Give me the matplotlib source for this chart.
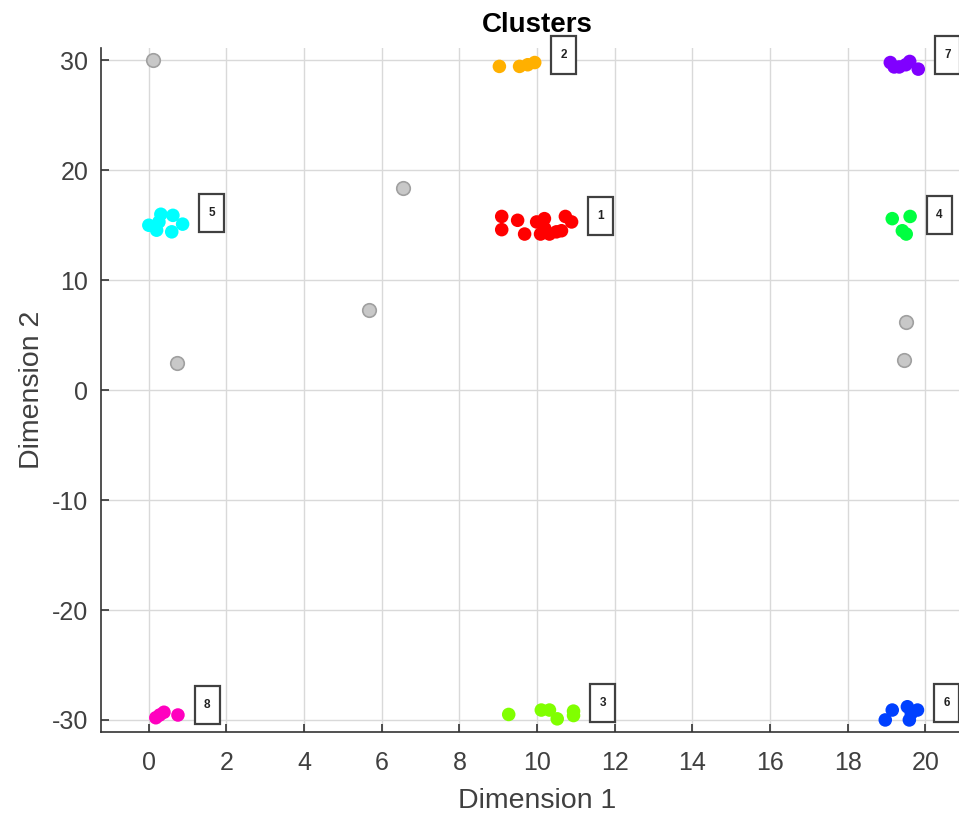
import matplotlib
matplotlib.use("Agg")
from matplotlib import pyplot as plt
from matplotlib import transforms as mtransforms
from matplotlib.patches import Rectangle
import numpy as np

plt.rcParams['font.family'] = ['Liberation Sans', 'DejaVu Sans']
plt.rcParams['axes.unicode_minus'] = False

# cluster points
c1_x = [9.09, 9.09, 9.50, 9.68, 9.99, 10.19, 10.09, 10.32, 10.50, 10.63, 10.73, 10.89, 10.20]
c1_y = [15.8, 14.6, 15.45, 14.2, 15.3, 15.6, 14.2, 14.2, 14.4, 14.5, 15.8, 15.3, 14.7]
c2_x = [9.03, 9.55, 9.76, 9.94]
c2_y = [29.45, 29.45, 29.6, 29.8]
c3_x = [9.27, 10.11, 10.32, 10.52, 10.94, 10.94]
c3_y = [-29.5, -29.1, -29.1, -29.9, -29.2, -29.6]
c4_x = [19.15, 19.61, 19.41, 19.51]
c4_y = [15.6, 15.8, 14.5, 14.2]
c5_x = [0.0, 0.2, 0.31, 0.26, 0.62, 0.87, 0.59]
c5_y = [15.0, 14.55, 16.0, 15.3, 15.9, 15.1, 14.4]
c6_x = [18.97, 19.15, 19.54, 19.59, 19.80, 19.64]
c6_y = [-30.0, -29.1, -28.8, -30.0, -29.1, -29.4]
c7_x = [19.1, 19.2, 19.33, 19.6, 19.82, 19.5]
c7_y = [29.8, 29.4, 29.4, 29.9, 29.2, 29.6]
c8_x = [0.18, 0.28, 0.39, 0.75]
c8_y = [-29.8, -29.55, -29.3, -29.55]

noise_x = [0.1, 6.54, 5.66, 0.72, 19.5, 19.46]
noise_y = [30.0, 18.4, 7.3, 2.45, 6.2, 2.7]

clusters = [(c1_x, c1_y), (c2_x, c2_y), (c3_x, c3_y), (c4_x, c4_y),
            (c5_x, c5_y), (c6_x, c6_y), (c7_x, c7_y), (c8_x, c8_y)]
colors = ['#ff0000', '#ffb000', '#80ff00', '#00ff40',
          '#00ffff', '#0040ff', '#8000ff', '#ff00bf']

fig = plt.figure(figsize=(9.59, 8.15), dpi=100)
ax = fig.add_axes([0.105, 0.1018, 0.910, 0.839])

ax.scatter(noise_x, noise_y, s=95, c='#c8c8c8', edgecolors='#a0a0a0',
           linewidths=1.2, zorder=3)

for i, (xs, ys) in enumerate(clusters):
    ax.scatter(xs, ys, s=95, c=colors[i], edgecolors='none', zorder=3)
    lx = max(xs) + 0.75
    ly = np.mean(ys) + 0.9
    # box of fixed size (in inches) centred on the label point
    tr = fig.dpi_scale_trans + mtransforms.ScaledTranslation(lx, ly, ax.transData)
    ax.add_patch(Rectangle((-0.125, -0.19), 0.25, 0.38, transform=tr,
                           fc='white', ec='#404040', lw=1.6, zorder=4,
                           clip_on=False))
    ax.text(lx, ly, str(i + 1), fontsize=8.5, fontweight='bold', color='#222222',
            ha='center', va='center', zorder=5, clip_on=False)

ax.set_xlim(-1.24, 21.24)
ax.set_ylim(-31.1, 31.1)
ax.set_xticks(np.arange(0, 21, 2))
ax.set_yticks(np.arange(-30, 31, 10))
ax.grid(True, color='#d9d9d9', linewidth=1)
ax.set_axisbelow(True)
for s in ['top', 'right']:
    ax.spines[s].set_visible(False)
for s in ['left', 'bottom']:
    ax.spines[s].set_color('#333333')
    ax.spines[s].set_linewidth(1.2)
ax.tick_params(direction='in', length=6, width=1.2, color='#333333',
               labelsize=18, labelcolor='#404040')
ax.tick_params(axis='x', pad=14)
ax.tick_params(axis='y', pad=9)

ax.set_xlabel("Dimension 1", fontsize=20.5, color='#404040', labelpad=9)
ax.set_ylabel("Dimension 2", fontsize=20.5, color='#404040', labelpad=5)
ax.set_title("Clusters", fontsize=20, fontweight='bold', pad=12)

plt.savefig("out.png", dpi=100)
